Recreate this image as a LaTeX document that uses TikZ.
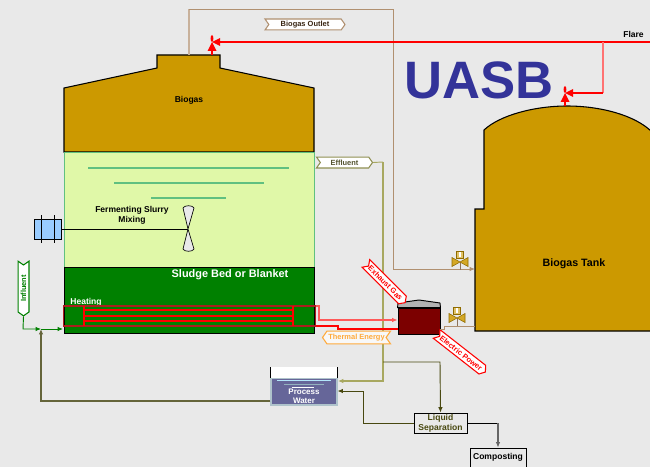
\documentclass[tikz,border=0pt]{standalone}
\usepackage{fontspec}
\setmainfont{Liberation Sans}
\usepackage{tikz}
\usetikzlibrary{arrows.meta,calc,shapes.symbols}
\definecolor{PageGray}{RGB}{233,233,233}
\definecolor{GasGold}{RGB}{204,153,0}
\definecolor{SlurryGreen}{RGB}{224,248,168}
\definecolor{SludgeGreen}{RGB}{0,128,0}
\definecolor{ScumTeal}{RGB}{96,192,128}
\definecolor{MotorBlue}{RGB}{153,204,255}
\definecolor{PipeTan}{RGB}{176,144,112}
\definecolor{PipeOlive}{RGB}{168,168,96}
\definecolor{PipeDark}{RGB}{72,72,16}
\definecolor{CoilDark}{RGB}{170,30,30}
\definecolor{EngineRed}{RGB}{124,0,0}
\definecolor{WaterBlue}{RGB}{102,102,153}
\definecolor{TitleBlue}{RGB}{51,51,153}
\definecolor{ThermalOrange}{RGB}{255,170,60}
\tikzset{
  lbl/.style={font=\bfseries\fontsize{6.4pt}{7.4pt}\selectfont,align=center,inner sep=0pt},
  boxnode/.style={draw=black,line width=.7pt,inner sep=0pt},
  tag/.style={shape=signal,draw,fill=white,line width=.8pt,inner sep=1pt,minimum height=8.2pt,
    font=\bfseries\fontsize{5.6pt}{6pt}\selectfont,signal pointer angle=110},
  pipe/.style={line width=.7pt},
  redpipe/.style={line width=.85pt,red},
}
\begin{document}
\begin{tikzpicture}[x=.75pt,y=-.75pt,>={Latex[length=4pt,width=3.4pt]}]
  \useasboundingbox (0,0) rectangle (650,467);
  \fill[PageGray] (0,0) rectangle (650,467);
  % pipes behind the vessels
  \coordinate (outtop) at (189,9);
  \coordinate (outright) at (393,9);
  \coordinate (flareend) at (650,42);
  % tank
  \draw[fill=GasGold,line width=.8pt] (652,331) -- (475,331) -- (475,209) -- (484,209) -- (484,130)
    .. controls (500,115) and (535,106) .. (567,106) .. controls (600,106) and (635,115) .. (652,132);
  \node[lbl,font=\bfseries\fontsize{8pt}{9pt}\selectfont] (tanklabel) at (574,264) {Biogas Tank};
  \coordinate (tankin) at (475,269);
  \coordinate (tankpower) at (475,326);
  % digester
  \draw[fill=GasGold,line width=.8pt] (64,152) -- (64,88) -- (157,68) -- (157,55) -- (220,55) -- (220,68) -- (314,88) -- (314,152) -- cycle;
  \node[lbl] (gaslabel) at (189,100) {Biogas};
  \coordinate (gasout) at (189,55);
  \node[draw=ScumTeal,line width=.5pt,fill=SlurryGreen,minimum width=187.5pt,minimum height=86.25pt,inner sep=0pt] (slurry) at (189,209.5) {};
  \node[boxnode,fill=SludgeGreen,minimum width=187.5pt,minimum height=49.5pt] (sludge) at (189,300) {};
  \draw[ScumTeal,line width=.8pt] (88,168) -- (289,168) (114,183) -- (264,183) (151,198) -- (226,198);
  \node[lbl,text=white,font=\bfseries\fontsize{8.2pt}{10pt}\selectfont] (sludgelabel) at (230,274.5) {Sludge Bed or Blanket};
  \node[lbl,text=white] (heatlabel) at (86,302) {Heating};
  \node[lbl] (mixlabel) at (132,215) {Fermenting Slurry\\Mixing};
  % mixer
  \node[boxnode,line width=.6pt,fill=MotorBlue,minimum width=20.25pt,minimum height=15pt] (motor) at (47.5,229) {};
  \draw[line width=.6pt] (41,215) -- (41,243) (54,215) -- (54,243);
  \coordinate (hub) at (188,229);
  \draw[line width=.7pt] (motor.east) -- (hub);
  \draw[fill=PageGray,line width=.5pt] (hub) -- (183,208) .. controls (184,205) and (193,205) .. (194,208) -- (hub)
    -- (194,249) .. controls (193,252) and (184,252) .. (183,249) -- cycle;
  % heating coil
  \node[draw=CoilDark,line width=.8pt,minimum width=189pt,minimum height=15pt,inner sep=0pt] (coil) at (189.5,316) {};
  \draw[redpipe] (84,306) -- (84,326) (293,306) -- (293,326);
  \draw[redpipe] (84,310) -- (293,310) (84,316) -- (293,316) (84,321) -- (293,321);
  % influent
  \node[tag,draw=SludgeGreen,text=SludgeGreen,rotate=-90,signal to=east,signal from=west,minimum width=41pt,inner sep=.5pt] (influent) at (23.5,288.5) {\rotatebox{180}{Influent}};
  \coordinate (infcorner) at (23,329);
  \coordinate (infmid) at (41,329);
  \draw[->,pipe,SludgeGreen] (influent.east) -- (infcorner) -- (infmid);
  \draw[->,pipe,SludgeGreen] (infmid) -- (63,329);
  % process water
  \node[draw=cyan!25!gray!60,line width=.8pt,fill=WaterBlue,minimum width=49.5pt,minimum height=20.25pt,inner sep=0pt] (water) at (304,391.5) {};
  \fill[white] (271,367) rectangle (337,378);
  \draw[line width=.6pt] (270.5,367) -- (270.5,378) (337.5,367) -- (337.5,378);
  \draw[cyan!30!white,line width=.7pt] (277,380.5) -- (331,380.5);
  \draw[cyan!30!gray!80!white,line width=.7pt] (284,384) -- (324,384);
  \draw[white,line width=.5pt] (292,387) -- (314,387);
  \node[text=white,font=\bfseries\fontsize{6pt}{7pt}\selectfont,align=center,inner sep=0pt] (waterlabel) at (304,396) {Process\\Water};
  \coordinate (retcorner) at (41,401);
  \draw[->,line width=.8pt,PipeOlive!60!black] (water.west|-retcorner) -- (retcorner) -- (infmid);
  % effluent
  \node[tag,draw=PipeOlive!85!black,text=PipeOlive!50!black,signal to=east,signal from=west,minimum width=42pt] (effluent) at (344.5,162.5) {Effluent};
  \coordinate (effcorner) at (383,162);
  \coordinate (effdown) at (383,381);
  \draw[pipe,PipeOlive] (effluent.east) -- (effcorner);
  \draw[->,line width=1.1pt,PipeOlive] (effcorner) -- (effdown) -- (338,381);
  % biogas line
  \draw[line width=1.1pt,PipeTan!70!white] (gasout) -- (outtop);
  \draw[->,pipe,PipeTan] (outtop) -- (outright) -- (outright|-tankin) -- (tankin);
  \node[tag,draw=PipeTan,text=black!70!brown,signal to=east,signal from=west,minimum width=60pt] (outlet) at (305,24.5) {Biogas Outlet};
  % flare
  \foreach \vx/\vy/\vn in {212/42/flareA,565/93/flareB} {
    \coordinate (\vn) at (\vx,\vy);
    \fill[red] (\vx-4.5,\vy+9) -- (\vx,\vy) -- (\vx+4.5,\vy+9) -- cycle;
    \fill[red] (\vx,\vy) -- (\vx+8,\vy-4) -- (\vx+8,\vy+4) -- cycle;
    \fill[red] (\vx,\vy-3.5) ellipse (1.4 and 3.5);
    \draw[red,line width=.8pt] (\vx,\vy+9) -- (\vx,\vy+13);
  }
  \coordinate (flarejoin) at (603,42);
  \node[lbl,anchor=east] (flarelabel) at (644,34) {Flare};
  \draw[redpipe] (flareend) -- ($(flareA)+(8,0)$);
  \draw[line width=1.1pt,red!55!white] (flarejoin) -- (flarejoin|-flareB);
  \draw[redpipe] (flarejoin|-flareB) -- ($(flareB)+(8,0)$);
  \node[font=\bfseries\fontsize{39.5pt}{40pt}\selectfont,text=TitleBlue,inner sep=0pt] (title) at (479,80) {UASB};
  % engine
  \node[boxnode,fill=EngineRed,minimum width=31.5pt,minimum height=19.5pt] (engine) at (419,321) {};
  \draw[fill=gray!60,line width=.7pt] (engine.north west) -- (398,303) -- (419,300) -- (440,303) -- (engine.north east) -- cycle;
  \coordinate (hotA) at (319,306);
  \coordinate (hotB) at (319,320);
  \draw[->,line width=1.1pt,red!65!white] (coil.east|-hotA) -- (hotA) -- (hotB) -- (hotB-|engine.west);
  \coordinate (hotC) at (338,326);
  \coordinate (hotD) at (338,329);
  \draw[redpipe] (coil.east|-hotC) -- (hotC) -- (hotD) -- (hotD-|engine.west);
  \node[tag,draw=ThermalOrange,text=ThermalOrange,signal to=west,signal from=east,minimum width=51pt,fill=PageGray!30!white,minimum height=9.5pt] (thermal) at (356.5,337.5) {Thermal Energy};
  \node[tag,draw=red,text=red,rotate=-45,signal to=east,signal from=west,minimum width=36pt] (exhaust) at (385.5,283) {Exhaust Gas};
  \node[tag,draw=red,text=red,rotate=-38,signal to=east,signal from=west,minimum width=45pt] (power) at (461,353) {Electric Power};
  % valves
  \foreach \vx/\vy/\vn in {460/262/valveA,457/318/valveB} {
    \coordinate (\vn) at (\vx,\vy);
    \draw[PipeTan!80!black,line width=.6pt] (\vx,\vy) -- (\vx,\vy+8);
    \draw[fill=GasGold!85!white,draw=GasGold!70!black,line width=.4pt] (\vx-8,\vy-4.5) -- (\vx+8,\vy+4.5) -- (\vx+8,\vy-4.5) -- (\vx-8,\vy+4.5) -- cycle;
    \draw[fill=GasGold!60!white,draw=GasGold!70!black,line width=.6pt] (\vx-3.5,\vy-11) rectangle (\vx+3.5,\vy-4);
    \fill[white] (\vx-1,\vy-10) rectangle (\vx+1,\vy-5);
  }
  \coordinate (powA) at (444,329);
  \coordinate (powB) at (444,326);
  \draw[pipe,PipeTan] (engine.east|-powA) -- (powA) -- (powB) -- (tankpower);
  % solids line
  \node[boxnode,fill=PageGray,text=PipeDark,minimum width=39.75pt,minimum height=15pt,lbl,draw=black,line width=.7pt] (separation) at (440.5,423) {Liquid\\Separation};
  \node[boxnode,fill=PageGray,lbl,draw=black,line width=.7pt,minimum width=42pt,minimum height=14.25pt] (composting) at (498,457.5) {Composting};
  \coordinate (sepstart) at (383,362);
  \coordinate (sepcorner) at (440,362);
  \draw[->,pipe,PipeDark] (sepstart) -- (sepcorner) -- (separation.north);
  \coordinate (backA) at (363,423);
  \coordinate (backB) at (363,391);
  \draw[->,pipe,PipeDark] (separation.west) -- (backA) -- (backB) -- (water.east|-backB);
  \coordinate (compcorner) at (498,423);
  \draw[pipe] (separation.east) -- (compcorner);
  \draw[->,line width=1pt,black!60] (compcorner) -- (composting.north);
\end{tikzpicture}
\end{document}
